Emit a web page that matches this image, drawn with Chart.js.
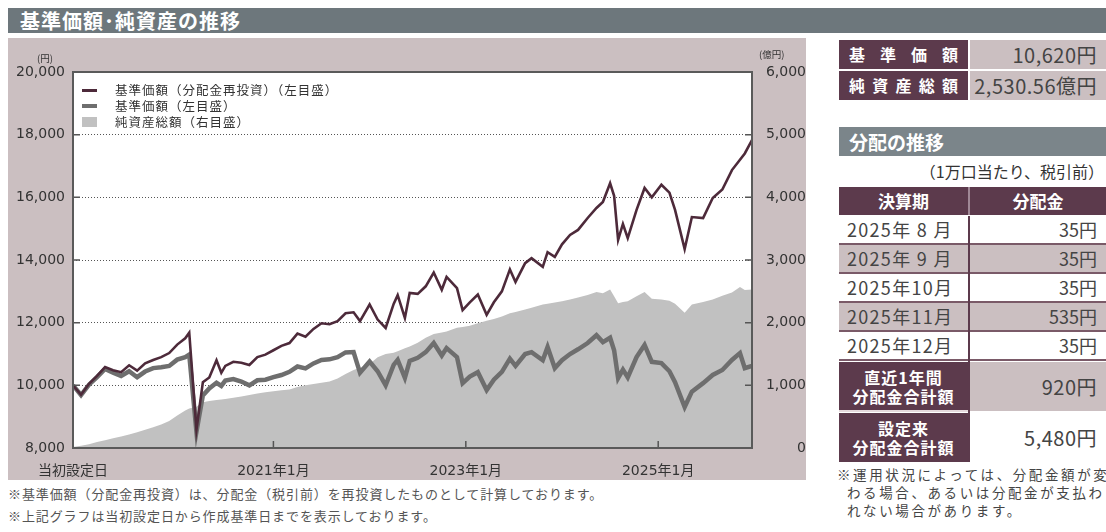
<!DOCTYPE html>
<html lang="ja">
<head>
<meta charset="utf-8">
<script src="https://cdn.jsdelivr.net/npm/chart.js@4.4.1/dist/chart.umd.min.js"></script>
<style>
  html, body { margin: 0; padding: 0; }
  body { width: 1106px; height: 532px; overflow: hidden; background: #fff; position: relative;
         font-family: "Noto Sans CJK JP", "Noto Sans", sans-serif; color: #333; }
  .abs { position: absolute; white-space: nowrap; }
  #title { left: 8px; top: 8px; width: 1098px; height: 25px; background: #6d777c; color: #fff;
           font-size: 20px; font-weight: bold; line-height: 25px; padding-left: 12px; letter-spacing: 1px; box-sizing: border-box; }
  #panel { left: 8px; top: 38px; width: 798px; height: 442px; background: #cbbfc1; }
  .unit { font-size: 9.5px; color: #333; }
  .lg { font-size: 12.5px; letter-spacing: 1px; color: #333; line-height: 16px; }
  .lg i { position: absolute; left: -33px; }
  .note { font-size: 13px; letter-spacing: 0.9px; color: #555; line-height: 18px; }
  .mar { background: #5c3a4c; color: #fff; font-weight: bold; }
  .pink { background: #cbbfc1; }
  .lab { box-sizing: border-box; padding: 0 10px; text-align: justify; text-align-last: justify; font-size: 16px; line-height: 29px; }
  .val { box-sizing: border-box; padding-right: 9px; text-align: right; font-size: 20px; line-height: 29px; color: #444; letter-spacing: 0.5px; }
  .cell { box-sizing: border-box; border-bottom: 2px solid #7a5a68; }
  .rnote { font-size: 13.5px; letter-spacing: 2.6px; color: #444; line-height: 18px; }
</style>
</head>
<body>
<div id="title" class="abs">基準価額･純資産の推移</div>
<div id="panel" class="abs"><canvas id="c"></canvas></div>
<div class="abs unit" style="left:37px;top:51px;">(円)</div>
<div class="abs unit" style="left:759px;top:47px;">(億円)</div>

<div class="abs lg" style="left:115px;top:82px;"><i style="top:7px;width:15px;height:3px;background:#4d2a3a;"></i>基準価額（分配金再投資）（左目盛）</div>
<div class="abs lg" style="left:115px;top:98px;"><i style="top:6px;width:15px;height:4px;background:#6e6e6e;"></i>基準価額（左目盛）</div>
<div class="abs lg" style="left:115px;top:114px;"><i style="top:3px;width:15px;height:10px;background:#c1c1c1;"></i>純資産総額（右目盛）</div>

<div class="abs note" style="left:8px;top:485px;">※基準価額（分配金再投資）は、分配金（税引前）を再投資したものとして計算しております。</div>
<div class="abs note" style="left:8px;top:507px;">※上記グラフは当初設定日から作成基準日までを表示しております。</div>

<div class="abs mar lab" style="left:839px;top:40px;width:129px;height:29px;">基 準 価 額</div>
<div class="abs pink val" style="left:970px;top:40px;width:136px;height:29px;">10,620円</div>
<div class="abs mar lab" style="left:839px;top:71px;width:129px;height:29px;">純資産総額</div>
<div class="abs pink val" style="left:970px;top:71px;width:136px;height:29px;">2,530.56億円</div>

<div class="abs" style="left:839px;top:127px;width:267px;height:29px;background:#7b858a;color:#fff;font-weight:bold;font-size:19px;line-height:29px;padding-left:10px;box-sizing:border-box;">分配の推移</div>
<div class="abs" style="right:2px;top:161px;font-size:16px;line-height:20px;color:#333;">（1万口当たり、税引前）</div>

<div id="dist"></div>

<div class="abs rnote" style="left:837px;top:465px;">※運用状況によっては、分配金額が変</div>
<div class="abs rnote" style="left:847px;top:483px;">わる場合、あるいは分配金が支払わ</div>
<div class="abs rnote" style="left:847px;top:501px;">れない場合があります。</div>

<script>
// months since inception (2018-12)
const months = [0, 1, 2, 3, 4, 5, 6, 7, 8, 9,
  10, 11, 12, 13, 14, 14.5, 15.4, 16.2, 17, 17.9,
  18.5, 19, 20, 21, 22, 23, 24, 25, 26, 27,
  28, 29, 30, 31, 32, 33, 34, 35, 35.8, 37,
  38, 39, 40, 40.5, 41.4, 42, 43, 44, 45, 46,
  46.6, 47.9, 48.6, 49.5, 50.5, 51.6, 52.5, 53.5, 54.5, 55.2,
  56.4, 57.2, 58.6, 59.2, 60.1, 61, 62, 63, 64.2, 65.3,
  66.1, 67, 67.5, 68, 68.6, 69.2, 70.3, 71.3, 72.2, 73.4,
  74.4, 75.1, 76.3, 77.2, 78.6, 79.8, 81, 82.2, 83.2, 83.8,
  84.7];

const navReinvest = [10000, 9700, 10050, 10300, 10580, 10480, 10420, 10640, 10470, 10700,
  10810, 10900, 11030, 11300, 11500, 11680, 8580, 10100, 10250, 10800,
  10400, 10620, 10750, 10720, 10650, 10900, 10980, 11120, 11260, 11350,
  11650, 11550, 11800, 11980, 11950, 12050, 12300, 12330, 12050, 12580,
  12100, 11830, 12600, 12880, 12150, 12950, 12920, 13160, 13600, 13050,
  13460, 13100, 12400, 12650, 12900, 12250, 12650, 13000, 13700, 13300,
  13900, 14060, 13780, 14250, 14100, 14500, 14800, 14960, 15340, 15660,
  15850, 16450, 16050, 14640, 15150, 14700, 15600, 16300, 16000, 16400,
  16150, 15600, 14350, 15370, 15340, 15980, 16250, 16870, 17200, 17400,
  17830];

const nav = [10000, 9690, 10020, 10260, 10520, 10400, 10300, 10450, 10260, 10440,
  10550, 10580, 10620, 10820, 10900, 10980, 8520, 9680, 9900, 10080,
  9980, 10150, 10200, 10120, 10000, 10160, 10180, 10260, 10330, 10430,
  10600, 10540, 10700, 10810, 10830, 10900, 11050, 11060, 10400, 10760,
  10450, 10000, 10650, 10810, 10240, 10780, 10880, 11060, 11350, 10950,
  11190, 10900, 10070, 10280, 10420, 9850, 10180, 10430, 10850, 10620,
  11000, 11060, 10800, 11220, 10550, 10800, 11000, 11150, 11350, 11600,
  11380, 11520, 11120, 10230, 10500, 10250, 10900, 11290, 10750, 10710,
  10450, 10100, 9310, 9800, 10070, 10330, 10490, 10810, 11030, 10550,
  10620];

// 億円
const netAssets = [15, 35, 60, 95, 125, 155, 185, 215, 250, 290,
  330, 375, 430, 520, 600, 630, 660, 730, 750, 765,
  775, 780, 800, 820, 845, 870, 890, 905, 920, 935,
  975, 1000, 1020, 1040, 1060, 1110, 1180, 1245, 1280, 1340,
  1450, 1500, 1520, 1545, 1590, 1620, 1680, 1760, 1820, 1845,
  1860, 1920, 1930, 1950, 1990, 2030, 2060, 2100, 2150, 2170,
  2210, 2240, 2290, 2300, 2320, 2340, 2370, 2400, 2440, 2490,
  2470, 2530, 2420, 2310, 2330, 2340, 2420, 2490, 2380, 2370,
  2350, 2300, 2160, 2290, 2330, 2370, 2430, 2480, 2570, 2520,
  2530];

const xTickValues = [0, 25, 49, 73];
const xTickLabels = ['当初設定日', '2021年1月', '2023年1月', '2025年1月'];

const distPeriods = ['2025年 8 月', '2025年 9 月', '2025年10月', '2025年11月', '2025年12月'];
const distAmounts = ['35円', '35円', '35円', '535円', '35円'];
const distTotals = [['直近1年間', '分配金合計額', '920円'], ['設定来', '分配金合計額', '5,480円']];

// distribution table
const dist = document.getElementById('dist');
let html = '<div class="abs mar" style="left:839px;top:187px;width:129px;height:28px;line-height:28px;text-align:center;font-size:17px;">決算期</div>' +
  '<div class="abs" style="left:968px;top:187px;width:2px;height:28px;background:#a08896;"></div>' +
  '<div class="abs mar" style="left:970px;top:187px;width:136px;height:28px;line-height:28px;text-align:center;font-size:17px;">分配金</div>';
distPeriods.forEach((p, i) => {
  const top = 216 + i * 29;
  const bg = i % 2 ? '#cbbfc1' : '#fff';
  html += `<div class="abs cell" style="left:839px;top:${top}px;width:129px;height:29px;background:${bg};font-size:18px;line-height:27px;padding-left:8px;letter-spacing:1.3px;color:#444;">${p}</div>`;
  html += `<div class="abs cell" style="left:970px;top:${top}px;width:136px;height:29px;background:${bg};font-size:18px;line-height:27px;padding-right:9px;text-align:right;color:#444;">${distAmounts[i]}</div>`;
});
distTotals.forEach((t, i) => {
  const top = 362 + i * 51;
  const bg = i === 0 ? '#cbbfc1' : '#fff';
  html += `<div class="abs mar" style="left:839px;top:${top}px;width:129px;height:49px;text-align:center;font-size:16px;line-height:19px;padding-top:6px;box-sizing:border-box;letter-spacing:1px;">${t[0]}<br>${t[1]}</div>`;
  html += `<div class="abs" style="left:970px;top:${top}px;width:136px;height:49px;background:${bg};font-size:20px;line-height:49px;padding-right:9px;box-sizing:border-box;text-align:right;color:#444;letter-spacing:0.5px;">${t[2]}</div>`;
});
html += '<div class="abs" style="left:968px;top:216px;width:2px;height:246px;background:#5c3a4c;"></div>';
html += '<div class="abs" style="left:839px;top:410px;width:129px;height:2px;background:#e6dadd;"></div>';
dist.innerHTML = html;

const pts = (vals) => vals.map((v, i) => ({ x: months[i], y: v }));
const tickFont = { family: '"DejaVu Sans", "Noto Sans CJK JP", sans-serif', size: 14 };

const plotBg = {
  id: 'plotBg',
  beforeDraw(chart) {
    const { ctx, chartArea: a } = chart;
    ctx.save();
    ctx.fillStyle = '#fff';
    ctx.fillRect(a.left, a.top, a.right - a.left, a.bottom - a.top);
    ctx.restore();
  }
};

const frame = {
  id: 'frame',
  afterDraw(chart) {
    const { ctx, chartArea: a, scales } = chart;
    ctx.save();
    ctx.strokeStyle = '#555';
    ctx.lineWidth = 1.5;
    ctx.beginPath();
    scales.x.ticks.forEach(t => {
      if (t.value === 0) return;
      const px = scales.x.getPixelForValue(t.value);
      ctx.moveTo(px, a.bottom);
      ctx.lineTo(px, a.bottom - 7);
    });
    scales.y.ticks.forEach(t => {
      const py = scales.y.getPixelForValue(t.value);
      ctx.moveTo(a.left, py);
      ctx.lineTo(a.left + 7, py);
      ctx.moveTo(a.right, py);
      ctx.lineTo(a.right - 7, py);
    });
    ctx.stroke();
    ctx.lineWidth = 2;
    ctx.strokeStyle = '#5a5a5a';
    ctx.strokeRect(a.left, a.top, a.right - a.left, a.bottom - a.top);
    ctx.restore();
  }
};

new Chart(document.getElementById('c'), {
  type: 'line',
  data: {
    datasets: [
      { label: '基準価額（分配金再投資）（左目盛）', data: pts(navReinvest), yAxisID: 'y',
        borderColor: '#4d2a3a', borderWidth: 2.6, pointRadius: 0, fill: false },
      { label: '基準価額（左目盛）', data: pts(nav), yAxisID: 'y',
        borderColor: '#6e6e6e', borderWidth: 4.5, pointRadius: 0, fill: false },
      { label: '純資産総額（右目盛）', data: pts(netAssets), yAxisID: 'y2',
        borderWidth: 0, borderColor: '#c1c1c1', backgroundColor: '#c1c1c1', fill: 'origin', pointRadius: 0 }
    ]
  },
  options: {
    responsive: true,
    maintainAspectRatio: false,
    animation: false,
    layout: { padding: { top: 34 } },
    plugins: { legend: { display: false }, tooltip: { enabled: false } },
    scales: {
      x: {
        type: 'linear', min: 0, max: 84.7,
        grid: { display: false },
        border: { display: false },
        afterBuildTicks: s => { s.ticks = xTickValues.map(v => ({ value: v })); },
        afterFit: s => { s.height = 32; },
        ticks: { autoSkip: false, maxRotation: 0, padding: 7, color: '#333', font: tickFont,
                 callback: (v, i) => xTickLabels[i] }
      },
      y: {
        position: 'left', min: 8000, max: 20000, z: 1,
        afterFit: s => { s.width = 65; },
        grid: { color: '#555', lineWidth: 1, drawTicks: false },
        border: { display: false, dash: [1, 2] },
        ticks: { stepSize: 2000, padding: 8, color: '#333', font: tickFont,
                 callback: v => v.toLocaleString('en-US') }
      },
      y2: {
        position: 'right', min: 0, max: 6000,
        afterFit: s => { s.width = 54; },
        grid: { display: false, drawTicks: false },
        border: { display: false },
        ticks: { stepSize: 1000, crossAlign: 'far', color: '#333', font: tickFont,
                 callback: v => v.toLocaleString('en-US') }
      }
    }
  },
  plugins: [plotBg, frame]
});
</script>
</body>
</html>
